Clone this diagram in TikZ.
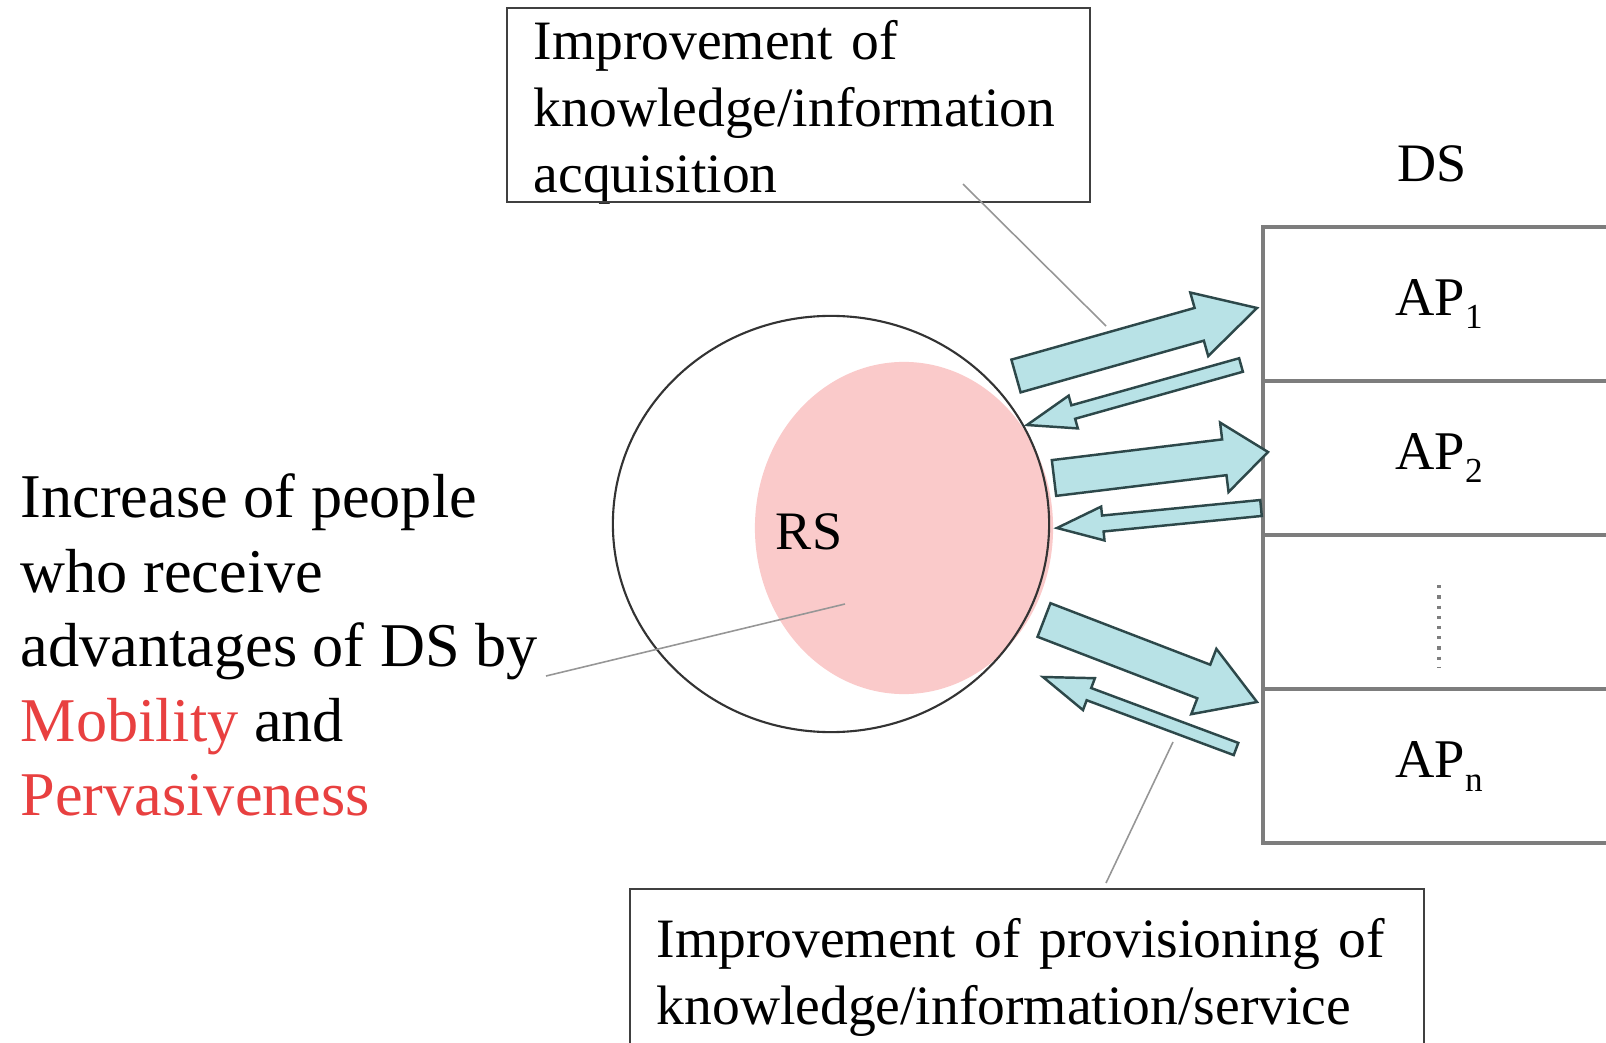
\documentclass[tikz,border=0pt]{standalone}
\usepackage{fontspec}
\setmainfont{Liberation Serif}
\usetikzlibrary{calc,positioning}
\definecolor{pinkfill}{RGB}{250,202,202}
\definecolor{arrfill}{RGB}{184,226,230}
\definecolor{arredge}{RGB}{45,72,74}
\definecolor{boxgray}{RGB}{125,125,125}
\definecolor{leadgray}{RGB}{150,150,150}
\definecolor{hilite}{RGB}{232,64,64}
\tikzset{
  textbox/.style={draw=black!75,line width=.6pt},
  boxtext/.style={font=\fontsize{15.8}{18.9}\selectfont},
  apbox/.style={draw=boxgray,line width=1.1pt,minimum width=3.52cm,
    minimum height=1.54cm,inner sep=0pt,outer sep=0pt,
    font=\fontsize{15.5}{18}\selectfont},
  leader/.style={draw=leadgray,line width=.45pt},
  flowarr/.style={fill=arrfill,draw=arredge,line width=.7pt,line join=miter}}
\newcommand{\apsub}[1]{\raisebox{-.55ex}{\fontsize{10}{10}\selectfont #1}}
% block arrow: tail, tip, half shaft, half head, head length
\newcommand{\flowarrow}[5]{%
  \path (#1) coordinate (fa-t) (#2) coordinate (fa-h);
  \path ($(fa-h)!#5!(fa-t)$) coordinate (fa-n);
  \draw[flowarr] ($(fa-t)!#3!90:(fa-h)$) -- ($(fa-n)!#3!90:(fa-h)$)
    -- ($(fa-n)!#4!90:(fa-h)$) -- (fa-h) -- ($(fa-n)!#4!-90:(fa-h)$)
    -- ($(fa-n)!#3!-90:(fa-h)$) -- ($(fa-t)!#3!-90:(fa-h)$) -- cycle;}

\begin{document}
\begin{tikzpicture}[x=0.01cm,y=-0.01cm]
\useasboundingbox (0,0) rectangle (1606,1043);
\clip (0,0) rectangle (1606,1043);

% receiving side
\fill[pinkfill] (904,528) ellipse [x radius=1.49cm,y radius=1.66cm];
\draw[line width=.6pt,black!80] (831,524) ellipse [x radius=2.18cm,y radius=2.08cm];
\node[font=\fontsize{15.4}{18}\selectfont] (rs) at (809,532) {RS};

% delivering side
\node[font=\fontsize{15.4}{18}\selectfont] (ds) at (1432,164) {DS};
\node[apbox] (ap1) at (1439,304) {AP\apsub{1}};
\node[apbox,below=0pt of ap1] (ap2) {AP\apsub{2}};
\node[apbox,below=0pt of ap2] (apgap) {};
\node[apbox,below=0pt of apgap] (apn) {AP\apsub{n}};
\draw[dotted,boxgray,line width=.9pt] ($(apgap.center)+(0,-27)$) -- ($(apgap.center)+(0,55)$);

% texts
\node[boxtext,align=left,text width=5.29cm,inner xsep=.26cm,inner ysep=.12cm,
  anchor=north west] (acq) at (507,8)
  {Improvement of\\knowledge/information\\acquisition};
\draw[textbox] (acq.north west) rectangle ($(acq.north east)+(0,194)$);
\node[boxtext,align=left,text width=7.4cm,inner xsep=.26cm,inner ysep=.29cm,
  anchor=north west] (prov) at (630,889)
  {Improvement of provisioning of\\knowledge/information/service};
\draw[textbox] (prov.north west) rectangle ($(prov.north east)+(0,300)$);
\node[align=left,anchor=west,inner sep=0pt,font=\fontsize{17.7}{21.2}\selectfont] (gain) at (20,645)
  {Increase of people\\who receive\\advantages of DS by\\\textcolor{hilite}{Mobility} and\\\textcolor{hilite}{Pervasiveness}};

% leader lines
\coordinate (gain-end) at (546,676);
\coordinate (rs-end) at (845,604);
\coordinate (acq-start) at (963,184);
\coordinate (acq-end) at (1106,326);
\coordinate (prov-start) at (1106,883);
\coordinate (prov-end) at (1173,742);
\draw[leader] (gain-end) -- (rs-end);
\draw[leader] (acq-start) -- (acq-end);
\draw[leader] (prov-start) -- (prov-end);

% flows between RS and the APs
\flowarrow{1016,376}{1257,308}{.17cm}{.33cm}{.6cm}
\flowarrow{1241,365}{1027,425}{.07cm}{.17cm}{.48cm}
\flowarrow{1054,478}{1268,452}{.18cm}{.35cm}{.44cm}
\flowarrow{1261,508}{1057,528}{.08cm}{.17cm}{.46cm}
\flowarrow{1044,620}{1257,702}{.18cm}{.35cm}{.57cm}
\flowarrow{1236,749}{1043,677}{.065cm}{.17cm}{.49cm}
\end{tikzpicture}
\end{document}
